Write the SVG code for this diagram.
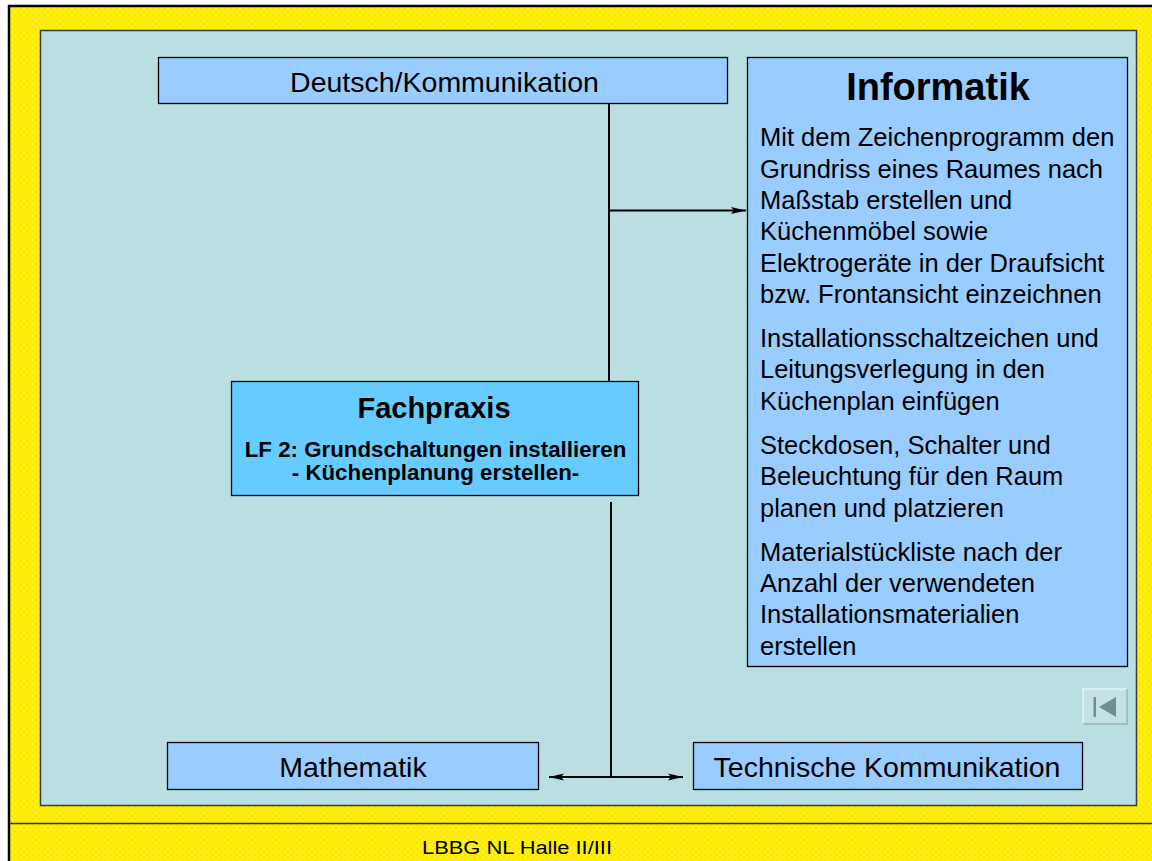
<svg xmlns="http://www.w3.org/2000/svg" width="1152" height="861" viewBox="0 0 1152 861">
<style>
.t{font-family:"Liberation Sans",Arial,sans-serif;fill:#000}
.box{fill:#99CCFF;stroke:#000;stroke-width:1.3}
.body{font-size:25.5px}
.lbl{font-size:28.5px}
.conn{stroke:#000;stroke-width:2;fill:none}
</style>
<defs>
<pattern id="yp" width="6" height="6" patternUnits="userSpaceOnUse">
<rect width="6" height="6" fill="#FFF200"/>
<path d="M0 0 L1.5 0 L0 1.5 Z M6 0 L4.5 0 L6 1.5 Z M0 6 L1.5 6 L0 4.5 Z M6 6 L4.5 6 L6 4.5 Z M3 1.5 L4.5 3 L3 4.5 L1.5 3 Z" fill="#F5DC30"/>
</pattern>
<marker id="ah" viewBox="0 0 15 8" refX="15" refY="4" markerWidth="15" markerHeight="8" markerUnits="userSpaceOnUse" orient="auto-start-reverse">
<path d="M0 0.5 L15 4 L0 7.5 L3 4 Z" fill="#000"/>
</marker>
</defs>
<g id="frame">
<rect x="0" y="0" width="1152" height="861" fill="#fff"/>
<rect x="9" y="6" width="1150" height="860" fill="url(#yp)" stroke="#000" stroke-width="2.5"/>
<line x1="9" y1="823.5" x2="1152" y2="823.5" stroke="#333" stroke-width="1.5"/>
<rect x="40.5" y="30.5" width="1096" height="775" fill="#BADFE2" stroke="#3a3a3a" stroke-width="1.5"/>
<text class="t" x="422" y="854" font-size="18" textLength="190" lengthAdjust="spacingAndGlyphs">LBBG NL Halle II/III</text>
</g>
<g id="connectors">
<line class="conn" x1="609" y1="104" x2="609" y2="381"/>
<line class="conn" x1="610" y1="210.5" x2="746" y2="210.5" marker-end="url(#ah)"/>
<line class="conn" x1="611" y1="502" x2="611" y2="777"/>
<line class="conn" x1="549" y1="777" x2="683" y2="777" marker-start="url(#ah)" marker-end="url(#ah)"/>
</g>
<g id="deutsch">
<rect class="box" x="158.5" y="57.5" width="569" height="46"/>
<text class="t lbl" x="444.5" y="92" text-anchor="middle">Deutsch/Kommunikation</text>
</g>
<g id="informatik">
<rect class="box" x="747.5" y="57.5" width="380" height="609"/>
<text class="t" x="938" y="100" font-size="38" font-weight="bold" text-anchor="middle">Informatik</text>
<text class="t body" x="760">
<tspan x="760" y="146">Mit dem Zeichenprogramm den</tspan>
<tspan x="760" y="178">Grundriss eines Raumes nach</tspan>
<tspan x="760" y="209">Maßstab erstellen und</tspan>
<tspan x="760" y="240">Küchenmöbel sowie</tspan>
<tspan x="760" y="272">Elektrogeräte in der Draufsicht</tspan>
<tspan x="760" y="303">bzw. Frontansicht einzeichnen</tspan>
<tspan x="760" y="347">Installationsschaltzeichen und</tspan>
<tspan x="760" y="378">Leitungsverlegung in den</tspan>
<tspan x="760" y="410">Küchenplan einfügen</tspan>
<tspan x="760" y="454">Steckdosen, Schalter und</tspan>
<tspan x="760" y="485">Beleuchtung für den Raum</tspan>
<tspan x="760" y="517">planen und platzieren</tspan>
<tspan x="760" y="561">Materialstückliste nach der</tspan>
<tspan x="760" y="592">Anzahl der verwendeten</tspan>
<tspan x="760" y="623">Installationsmaterialien</tspan>
<tspan x="760" y="655">erstellen</tspan>
</text>
</g>
<g id="fachpraxis">
<rect x="231.5" y="381.5" width="407" height="114" fill="#66CCFF" stroke="#000" stroke-width="1.3"/>
<text class="t" x="434" y="418" font-size="29" font-weight="bold" text-anchor="middle">Fachpraxis</text>
<text class="t" x="435.5" y="457" font-size="22.3" font-weight="bold" text-anchor="middle">LF 2: Grundschaltungen installieren</text>
<text class="t" x="435.5" y="480" font-size="22.3" font-weight="bold" text-anchor="middle">- Küchenplanung erstellen-</text>
</g>
<g id="mathematik">
<rect class="box" x="167.5" y="742.5" width="371" height="47"/>
<text class="t lbl" x="353" y="777" text-anchor="middle">Mathematik</text>
</g>
<g id="technische">
<rect class="box" x="693.5" y="742.5" width="389" height="47"/>
<text class="t lbl" x="887" y="777" text-anchor="middle">Technische Kommunikation</text>
</g>
<g id="navbutton">
<rect x="1083" y="689" width="44" height="35" fill="#C4E2E5"/>
<path d="M1083 724 L1083 689 L1127 689" fill="none" stroke="#E2F2F3" stroke-width="1.5"/>
<path d="M1083 724 L1127 724 L1127 689" fill="none" stroke="#95B5B8" stroke-width="1.5"/>
<rect x="1093.5" y="697" width="2.5" height="20" fill="#6E8E8F"/>
<path d="M1099 707 L1116 697 L1116 717 Z" fill="#6E8E8F"/>
</g>
</svg>
